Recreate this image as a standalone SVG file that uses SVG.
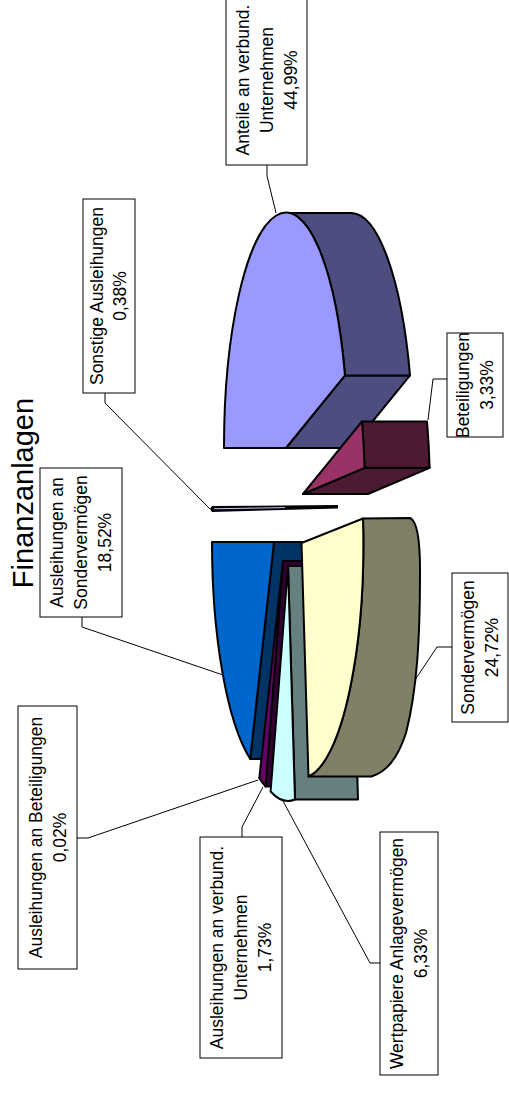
<svg xmlns="http://www.w3.org/2000/svg" width="509" height="1095" viewBox="0 0 509 1095">
<style>
.sl{stroke:#000;stroke-width:2;stroke-linejoin:round}
.box{fill:#fff;stroke:#000;stroke-width:1}
.lbl{font-family:"Liberation Sans",Arial,sans-serif;font-size:17.5px;fill:#000;text-anchor:middle}
.ttl{font-family:"Liberation Sans",Arial,sans-serif;font-size:29px;fill:#000;text-anchor:middle}
.ld{fill:none;stroke:#000;stroke-width:1}
</style>
<rect width="509" height="1095" fill="#fff"/>

<!-- Title -->
<text class="ttl" transform="translate(33,493) rotate(-90)">Finanzanlagen</text>

<!-- Connectors -->
<g id="connectors">
<polyline class="ld" points="267,165 267,176 276,213"/>
<polyline class="ld" points="447,379 433,379 428,420"/>
<polyline class="ld" points="105,393 105,403 210,509"/>
<polyline class="ld" points="82,617 82,627 223,675"/>
<polyline class="ld" points="452,647 437,647 415,680"/>
<polyline class="ld" points="380,963 370,963 283,801"/>
<polyline class="ld" points="77,838 88,838 258,780"/>
<polyline class="ld" points="242,837 242,827 263,787"/>
</g>

<!-- Anteile an verbund. Unternehmen -->
<g id="slice-anteile">
<path class="sl" fill="#4D4D80" d="M286,448 L345,375.4 L410,375.4 L351,448 Z"/>
<path class="sl" fill="#4D4D80" d="M286,213 L351,213 A62 235 0 0 1 410,375.4 L345,375.4 A62 235 0 0 0 286,213 Z"/>
<path class="sl" fill="#9999FF" d="M286,448 L224,448 A62 235 0 0 1 345,375.4 Z"/>
</g>

<!-- Beteiligungen -->
<g id="slice-beteiligungen">
<path class="sl" fill="#4D1A33" d="M303,494 L364.6,467.8 L429.6,467.8 L368,494 Z"/>
<path class="sl" fill="#4D1A33" d="M362,421.4 L427,421.4 A62 235 0 0 1 429.6,467.8 L364.6,467.8 A62 235 0 0 0 362,421.4 Z"/>
<path class="sl" fill="#993366" d="M303,494 L362,421.4 A62 235 0 0 1 364.6,467.8 Z"/>
</g>

<!-- Sonstige Ausleihungen -->
<g id="slice-sonstige">
<path fill="#000" d="M210,509 L212,506 L338,505 L338,508.5 L212,512 Z"/>
<line x1="214" y1="508.8" x2="285" y2="507.6" stroke="#C8C8FF" stroke-width="1"/>
</g>

<!-- Ausleihungen an Sondervermögen -->
<g id="slice-ausl-sonderv">
<path class="sl" fill="#003366" d="M274,542 L250.2,759 L313.2,759 L337,542 Z"/>
<path class="sl" fill="#0066CC" d="M274,542 L250.2,759 A62 235 0 0 1 212,542 Z"/>
</g>

<!-- Ausleihungen an verbund. Unternehmen -->
<g id="slice-ausl-verbund">
<path class="sl" fill="#330033" d="M283,561 L265.6,786.5 L328.6,786.5 L346,561 Z"/>
<path class="sl" fill="#660066" d="M283,561 L265.6,786.5 A62 235 0 0 1 259.3,778.1 Z"/>
</g>

<!-- Wertpapiere Anlagevermögen -->
<g id="slice-wertpapiere">
<path class="sl" fill="#668080" d="M288,566 L295,799.5 L358,799.5 L351,566 Z"/>
<path class="sl" fill="#CCFFFF" d="M288,566 L295,799.5 A62 235 0 0 1 270.6,791.5 Z"/>
</g>

<!-- Sondervermögen -->
<g id="slice-sondervermoegen">
<path class="sl" fill="#808066" d="M363,518.5 L410,518 C417,521 420,538 420,570 C420,640 417,690 406,733 C397,760 386,772 371.5,776.5 L308.5,776.5 A62 235 0 0 0 363,518.5 Z"/>
<path class="sl" fill="#FFFFCC" d="M301.5,543 L363,518.5 A62 235 0 0 1 308.5,776.5 Z"/>
</g>

<!-- Labels -->
<g id="label-anteile">
<rect class="box" x="226" y="-5" width="81" height="170"/>
<g transform="translate(0,80) rotate(-90)">
<text x="0" y="248.5" class="lbl">Anteile an verbund.</text>
<text x="0" y="272.5" class="lbl">Unternehmen</text>
<text x="0" y="296.5" class="lbl">44,99%</text>
</g>
</g>

<g id="label-beteiligungen">
<rect class="box" x="447" y="333" width="56" height="104"/>
<g transform="translate(0,385) rotate(-90)">
<text x="0" y="469" class="lbl">Beteiligungen</text>
<text x="0" y="493" class="lbl">3,33%</text>
</g>
</g>

<g id="label-sonstige">
<rect class="box" x="83" y="199" width="52" height="194"/>
<g transform="translate(0,296) rotate(-90)">
<text x="0" y="103" class="lbl">Sonstige Ausleihungen</text>
<text x="0" y="126" class="lbl">0,38%</text>
</g>
</g>

<g id="label-ausl-sonderv">
<rect class="box" x="40" y="468" width="82" height="149"/>
<g transform="translate(0,542.5) rotate(-90)">
<text x="0" y="63" class="lbl">Ausleihungen an</text>
<text x="0" y="87" class="lbl">Sondervermögen</text>
<text x="0" y="111" class="lbl">18,52%</text>
</g>
</g>

<g id="label-sondervermoegen">
<rect class="box" x="452" y="573" width="56" height="149"/>
<g transform="translate(0,647.5) rotate(-90)">
<text x="0" y="474" class="lbl">Sondervermögen</text>
<text x="0" y="498" class="lbl">24,72%</text>
</g>
</g>

<g id="label-wertpapiere">
<rect class="box" x="380" y="832" width="58" height="243"/>
<g transform="translate(0,953.5) rotate(-90)">
<text x="0" y="403" class="lbl">Wertpapiere Anlagevermögen</text>
<text x="0" y="427" class="lbl">6,33%</text>
</g>
</g>

<g id="label-ausl-verbund">
<rect class="box" x="200" y="837" width="82" height="221"/>
<g transform="translate(0,947.5) rotate(-90)">
<text x="0" y="223" class="lbl">Ausleihungen an verbund.</text>
<text x="0" y="247" class="lbl">Unternehmen</text>
<text x="0" y="271" class="lbl">1,73%</text>
</g>
</g>

<g id="label-ausl-beteiligungen">
<rect class="box" x="18" y="706" width="59" height="263"/>
<g transform="translate(0,837.5) rotate(-90)">
<text x="0" y="41.5" class="lbl">Ausleihungen an Beteiligungen</text>
<text x="0" y="65.5" class="lbl">0,02%</text>
</g>
</g>
</svg>
